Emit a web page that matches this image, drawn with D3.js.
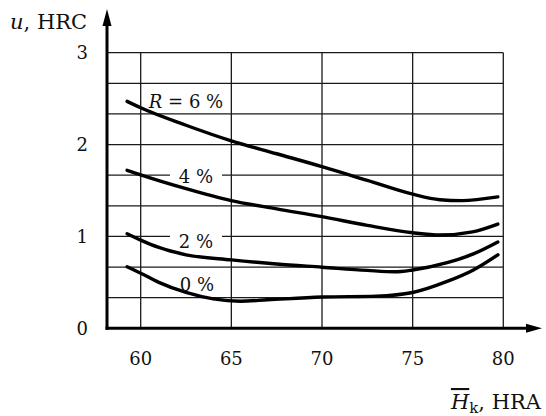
<!DOCTYPE html>
<html>
<head>
<meta charset="utf-8">
<script src="https://cdn.jsdelivr.net/npm/d3@7"></script>
<style>
  html, body { margin: 0; padding: 0; background: #fff; }
  svg { display: block; }
  text { font-family: "DejaVu Serif", serif; fill: #111; }
</style>
</head>
<body>
<svg id="chart" width="546" height="416"></svg>
<script>
// ---- data ----
const xTicks = [60, 65, 70, 75, 80];
const yTicks = [0, 1, 2, 3];
const yGrid = [1/3, 2/3, 1, 4/3, 5/3, 2, 7/3, 8/3, 3];

const xR6 = [59.25, 60, 62.5, 65, 67.5, 70, 72.5, 75, 76.5, 77.7, 79.7];
const yR6 = [2.47, 2.40, 2.21, 2.04, 1.90, 1.76, 1.61, 1.46, 1.40, 1.39, 1.43];

const xR4 = [59.25, 60, 62.5, 65, 67.5, 70, 72.5, 75, 76.5, 78.3, 79.7];
const yR4 = [1.72, 1.67, 1.52, 1.39, 1.30, 1.215, 1.12, 1.04, 1.015, 1.05, 1.135];

const xR2 = [59.25, 60, 61, 62.5, 65, 67.5, 70, 72.5, 74, 75, 76.9, 78.35, 79.7];
const yR2 = [1.03, 0.96, 0.88, 0.80, 0.745, 0.70, 0.665, 0.63, 0.615, 0.635, 0.714, 0.81, 0.94];

const xR0 = [59.25, 60, 61, 62.5, 64, 65.5, 67, 70, 73, 75, 76.9, 78.35, 79.7];
const yR0 = [0.67, 0.60, 0.50, 0.39, 0.32, 0.295, 0.31, 0.34, 0.35, 0.39, 0.51, 0.635, 0.80];

const curveLabels = ["6 %", "4 %", "2 %", "0 %"];

// ---- layout ----
const svg = d3.select("#chart");
const x = d3.scaleLinear().domain([60, 80]).range([140.7, 503.3]);
const y = d3.scaleLinear().domain([0, 3]).range([328.3, 52.7]);
const axisX = 107;      // position of vertical axis (pixels)
const axisY = y(0);

// grid
const grid = svg.append("g").attr("stroke", "#1a1a1a").attr("stroke-width", 1.3);
grid.selectAll("line.h").data(yGrid).join("line")
  .attr("x1", axisX).attr("x2", x(80))
  .attr("y1", d => y(d)).attr("y2", d => y(d));
grid.selectAll("line.v").data(xTicks).join("line")
  .attr("x1", d => x(d)).attr("x2", d => x(d))
  .attr("y1", y(3)).attr("y2", axisY);

// label backgrounds (interrupt grid lines)
const labelPos = [
  {t: curveLabels[0], cx: 186, cy: 101.5, italicR: true},
  {t: curveLabels[1], cx: 196, cy: 176.5},
  {t: curveLabels[2], cx: 196, cy: 241.5},
  {t: curveLabels[3], cx: 197, cy: 284.5}
];
svg.append("g").selectAll("rect").data(labelPos.slice(1, 3)).join("rect")
  .attr("x", d => d.cx - 26).attr("y", d => d.cy - 9)
  .attr("width", 52).attr("height", 18).attr("fill", "#fff");

// curves
const line = d3.line().x(d => x(d[0])).y(d => y(d[1])).curve(d3.curveMonotoneX);
const series = [[xR6, yR6], [xR4, yR4], [xR2, yR2], [xR0, yR0]];
svg.append("g").selectAll("path").data(series).join("path")
  .attr("d", s => line(s[0].map((v, i) => [v, s[1][i]])))
  .attr("fill", "none").attr("stroke", "#000").attr("stroke-width", 3.4)
  .attr("stroke-linecap", "round");

// axes
svg.append("line").attr("x1", axisX).attr("x2", axisX).attr("y1", 22).attr("y2", axisY + 1.5)
  .attr("stroke", "#000").attr("stroke-width", 3);
svg.append("line").attr("x1", axisX - 1.5).attr("x2", 530).attr("y1", axisY).attr("y2", axisY)
  .attr("stroke", "#000").attr("stroke-width", 3);
svg.append("path").attr("d", `M${axisX},9 L${axisX - 4.5},26 L${axisX + 4.5},26 Z`).attr("fill", "#000");
svg.append("path").attr("d", `M542,${axisY} L526,${axisY - 4.5} L526,${axisY + 4.5} Z`).attr("fill", "#000");

// tick labels
svg.append("g").selectAll("text").data(xTicks).join("text")
  .attr("x", d => x(d)).attr("y", 365).attr("text-anchor", "middle")
  .attr("font-size", 18).text(d => d);
svg.append("g").selectAll("text").data(yTicks).join("text")
  .attr("x", 88).attr("y", d => y(d) + 6.5).attr("text-anchor", "end")
  .attr("font-size", 18).text(d => d);

// curve labels
const lbl = svg.append("g").attr("font-size", 18);
labelPos.forEach(d => {
  const t = lbl.append("text").attr("x", d.cx).attr("y", d.cy + 6.5).attr("text-anchor", "middle");
  if (d.italicR) {
    t.append("tspan").attr("font-style", "italic").text("R");
    t.append("tspan").text(" = " + d.t);
  } else {
    t.text(d.t);
  }
});

// axis titles
const ty = svg.append("text").attr("x", 10).attr("y", 29).attr("font-size", 21);
ty.append("tspan").attr("font-style", "italic").text("u");
ty.append("tspan").text(", HRC");

const tx = svg.append("text").attr("x", 541).attr("y", 409).attr("font-size", 21).attr("text-anchor", "end");
tx.append("tspan").attr("font-style", "italic").attr("text-decoration", "overline").text("H");
tx.append("tspan").attr("font-size", 15).attr("dy", 4).text("k");
tx.append("tspan").attr("dy", -4).text(", HRA");
</script>
</body>
</html>
